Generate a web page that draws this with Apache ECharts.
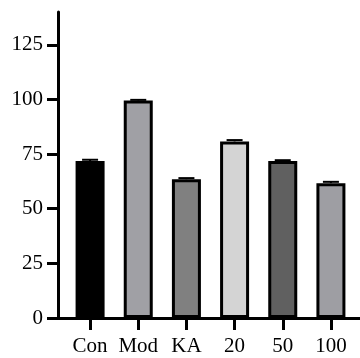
<!DOCTYPE html>
<html>
<head>
<meta charset="utf-8">
<script src="https://cdn.jsdelivr.net/npm/echarts@6/dist/echarts.min.js"></script>
<style>
  html, body { margin: 0; padding: 0; background: #fff; }
  #chart { width: 360px; height: 358px; }
</style>
</head>
<body>
<div id="chart"></div>
<script>
const categories = ['Con', 'Mod', 'KA', '20', '50', '100']
const values = [71.8, 99.5, 63.5, 80.8, 71.8, 61.7]
const errors = [0.6, 0.3, 0.5, 0.6, 0.4, 0.6]
const barColors = ['#000000', '#a0a0a5', '#808080', '#d4d4d4', '#606060', '#9e9ea3']
const yTicks = [0, 25, 50, 75, 100, 125]

const font = 'Liberation Serif'

const chart = echarts.init(document.getElementById('chart'))

const option = {
  animation: false,
  grid: [
    // bars
    { left: 66, right: 5, top: 12, bottom: 40 },
    // axis lines, y ticks and labels
    { left: 58, right: 0, top: 12, bottom: 40 }
  ],
  xAxis: [
    {
      type: 'category',
      gridIndex: 0,
      data: categories,
      axisLine: { show: false },
      axisTick: { show: true, alignWithLabel: true, length: 12, lineStyle: { color: '#000', width: 3 } },
      axisLabel: { interval: 0, color: '#000', fontFamily: font, fontSize: 21, margin: 18, hideOverlap: false }
    },
    {
      type: 'value',
      gridIndex: 1,
      min: 0,
      max: 1,
      axisLine: { show: true, lineStyle: { color: '#000', width: 3 } },
      axisTick: { show: false },
      axisLabel: { show: false },
      splitLine: { show: false }
    }
  ],
  yAxis: [
    {
      type: 'value',
      gridIndex: 0,
      min: 0,
      max: 140,
      show: false
    },
    {
      type: 'value',
      gridIndex: 1,
      min: 0,
      max: 140,
      axisLine: { show: true, lineStyle: { color: '#000', width: 3 } },
      axisTick: { show: true, length: 11, customValues: yTicks, lineStyle: { color: '#000', width: 3 } },
      axisLabel: { color: '#000', fontFamily: font, fontSize: 21, margin: 15, customValues: yTicks },
      splitLine: { show: false }
    }
  ],
  series: [
    {
      type: 'bar',
      xAxisIndex: 0,
      yAxisIndex: 0,
      barWidth: 29,
      data: values.map((v, i) => ({
        value: v,
        itemStyle: { color: barColors[i], borderColor: '#000', borderWidth: 3 }
      })),
      z: 2
    },
    {
      type: 'custom',
      xAxisIndex: 0,
      yAxisIndex: 0,
      data: values.map((v, i) => [i, v, v + errors[i]]),
      renderItem: (params, api) => {
        const base = api.coord([api.value(0), api.value(1)])
        const top = api.coord([api.value(0), api.value(2)])
        const half = 8
        return {
          type: 'group',
          children: [
            { type: 'line', shape: { x1: base[0], y1: base[1], x2: top[0], y2: top[1] }, style: { stroke: '#000', lineWidth: 2 } },
            { type: 'line', shape: { x1: top[0] - half, y1: top[1], x2: top[0] + half, y2: top[1] }, style: { stroke: '#000', lineWidth: 2 } }
          ]
        }
      },
      z: 3
    }
  ]
}

chart.setOption(option)
</script>
</body>
</html>
